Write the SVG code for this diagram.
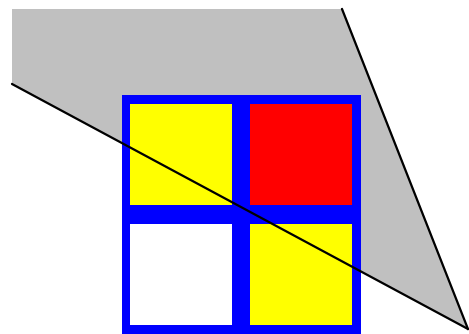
<svg xmlns="http://www.w3.org/2000/svg" width="469" height="334" viewBox="0 0 469 334">
<style>
.ln{stroke:#000;stroke-width:2.2;fill:none;stroke-linecap:round}
</style>
<rect width="469" height="334" fill="#fff"/>
<g id="shade">
<polygon points="12,9 342,9 468,329 12,84" fill="#c0c0c0"/>
</g>
<g id="grid">
<rect x="122" y="95" width="239" height="239" fill="#0000ff"/>
<rect id="tl" x="130" y="104" width="102" height="101" fill="#ffff00"/>
<rect id="tr" x="250" y="104" width="102" height="101" fill="#ff0000"/>
<rect id="bl" x="130" y="224" width="102" height="101" fill="#ffffff"/>
<rect id="br" x="250" y="224" width="102" height="101" fill="#ffff00"/>
</g>
<g id="connectors">
<line class="ln" x1="12" y1="84" x2="468" y2="329"/>
<line class="ln" x1="342" y1="9" x2="468" y2="329"/>
</g>
</svg>
